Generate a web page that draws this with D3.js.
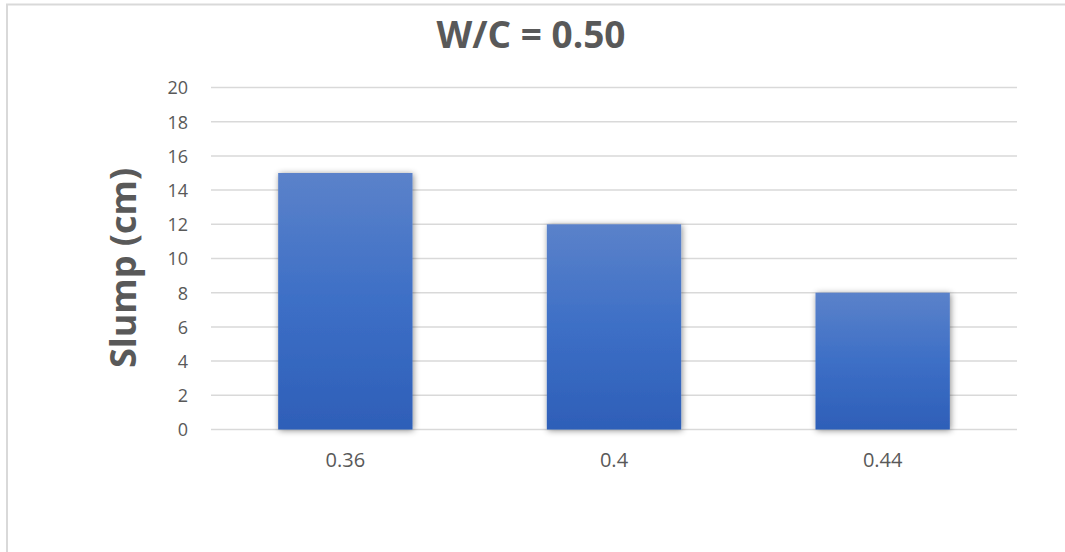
<!DOCTYPE html>
<html>
<head>
<meta charset="utf-8">
<script src="https://cdn.jsdelivr.net/npm/d3@7"></script>
<style>
  html, body { margin: 0; padding: 0; background: #fff; }
  svg { display: block; }
</style>
</head>
<body>
<script>
// Slump test results for a water/cement ratio of 0.50
const categories = ["0.36", "0.4", "0.44"];
const slumpValues = [15, 12, 8];
const yTicks = [0, 2, 4, 6, 8, 10, 12, 14, 16, 18, 20];
const chartTitle = "W/C = 0.50";
const yAxisTitle = "Slump (cm)";

const W = 1065, H = 552;
const plot = { left: 211, right: 1017, top: 87.5, bottom: 429.5 };

const svg = d3.select("body").append("svg")
  .attr("width", W).attr("height", H);

const defs = svg.append("defs");
const grad = defs.append("linearGradient")
  .attr("id", "barFill")
  .attr("x1", 0).attr("y1", 0).attr("x2", 0).attr("y2", 1);
grad.append("stop").attr("offset", "0%").attr("stop-color", "#5b82ca");
grad.append("stop").attr("offset", "50%").attr("stop-color", "#3d6fc6");
grad.append("stop").attr("offset", "100%").attr("stop-color", "#2e5fb8");

const shadow = defs.append("filter").attr("id", "barShadow")
  .attr("x", "-10%").attr("y", "-10%").attr("width", "120%").attr("height", "120%");
shadow.append("feDropShadow")
  .attr("dx", 1).attr("dy", 1).attr("stdDeviation", 3)
  .attr("flood-color", "#000").attr("flood-opacity", 0.45);

// Chart area frame
svg.append("rect")
  .attr("x", 7).attr("y", 4.5)
  .attr("width", W + 20).attr("height", H + 20)
  .attr("fill", "#fff")
  .attr("stroke", "#d9d9d9").attr("stroke-width", 2);

const x = d3.scaleBand()
  .domain(categories)
  .range([plot.left, plot.right])
  .paddingInner(0.5).paddingOuter(0.25);

const y = d3.scaleLinear()
  .domain([0, 20])
  .range([plot.bottom, plot.top]);

// Horizontal gridlines
svg.append("g")
  .selectAll("line")
  .data(yTicks)
  .join("line")
  .attr("x1", plot.left).attr("x2", plot.right)
  .attr("y1", d => y(d)).attr("y2", d => y(d))
  .attr("stroke", "#d9d9d9").attr("stroke-width", 1.5);

// Y axis tick labels
const yAxis = d3.axisLeft(y).tickValues(yTicks).tickSize(0).tickPadding(0);
const yG = svg.append("g")
  .attr("transform", `translate(${plot.left - 23},0)`)
  .call(yAxis);
yG.select(".domain").remove();
yG.selectAll("text")
  .attr("font-family", "'Open Sans', sans-serif")
  .attr("font-size", 18)
  .attr("fill", "#595959")
  .attr("dy", "0.35em");

// Bars
svg.append("g")
  .selectAll("rect")
  .data(slumpValues)
  .join("rect")
  .attr("x", (d, i) => x(categories[i]))
  .attr("width", x.bandwidth())
  .attr("y", d => y(d))
  .attr("height", d => y(0) - y(d))
  .attr("fill", "url(#barFill)")
  .attr("filter", "url(#barShadow)");

// X axis category labels
const xAxis = d3.axisBottom(x).tickSize(0).tickPadding(0);
const xG = svg.append("g")
  .attr("transform", `translate(0,${plot.bottom + 37.5})`)
  .call(xAxis);
xG.select(".domain").remove();
xG.selectAll("text")
  .attr("font-family", "'Open Sans', sans-serif")
  .attr("font-size", 20)
  .attr("fill", "#595959")
  .attr("dy", 0);

// Chart title
svg.append("text")
  .attr("x", 531).attr("y", 48)
  .attr("text-anchor", "middle")
  .attr("font-family", "'Open Sans', sans-serif")
  .attr("font-weight", "bold")
  .attr("font-size", 37)
  .attr("fill", "#595959")
  .text(chartTitle);

// Y axis title
svg.append("text")
  .attr("transform", "translate(136,268) rotate(-90)")
  .attr("text-anchor", "middle")
  .attr("font-family", "'Open Sans', sans-serif")
  .attr("font-weight", "bold")
  .attr("font-size", 36)
  .attr("fill", "#595959")
  .text(yAxisTitle);
</script>
</body>
</html>
